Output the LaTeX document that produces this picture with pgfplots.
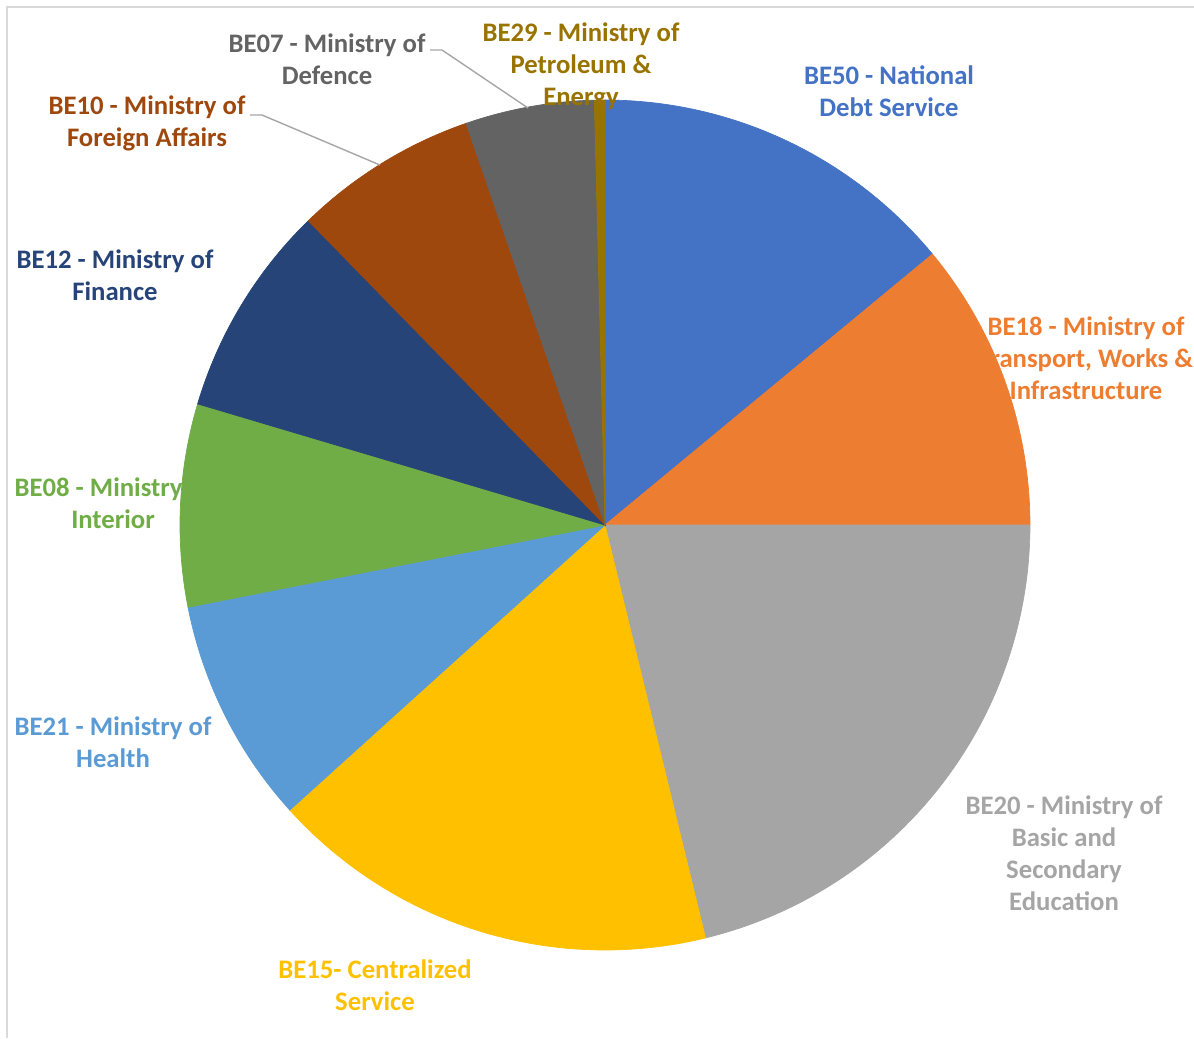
\documentclass[border=0pt]{standalone}
\usepackage{pgfplots}
\pgfplotsset{compat=1.18}
\usepackage{fontspec}
\setmainfont{Carlito}
\definecolor{cBEfifty}{HTML}{4472C4}
\definecolor{cBEeighteen}{HTML}{ED7D31}
\definecolor{cBEtwenty}{HTML}{A5A5A5}
\definecolor{cBEfifteen}{HTML}{FFC000}
\definecolor{cBEtwentyone}{HTML}{5B9BD5}
\definecolor{cBEeight}{HTML}{70AD47}
\definecolor{cBEtwelve}{HTML}{264478}
\definecolor{cBEten}{HTML}{9E480E}
\definecolor{cBEseven}{HTML}{636363}
\definecolor{cBEtwentynine}{HTML}{997300}
\definecolor{frame}{HTML}{D9D9D9}
\tikzset{lbl/.style={font=\fontsize{7.6}{9.1}\selectfont\bfseries, align=center, inner sep=0pt}}
% slice: {color}{start angle}{end angle} (degrees clockwise from 12 o'clock; share x 3.6)
\newcommand{\slice}[3]{%
  \addplot[fill=#1, draw=#1, line width=0.2pt, domain=#2:#3, samples=80]
    ({605+425*sin(x)},{525-425*cos(x)}) -- (axis cs:605,525) -- cycle;}
\begin{document}
\begin{tikzpicture}
\begin{axis}[
  at={(0,0)}, anchor=south west,
  scale only axis, width=11.94cm, height=10.38cm,
  xmin=0, xmax=1194, ymin=0, ymax=1038, y dir=reverse,
  hide axis, clip=false,
]
\addplot[draw=none] coordinates {(0,0) (1194,1038)};
\draw[frame, line width=0.6pt] (axis cs:7,1038) -- (axis cs:7,7) -- (axis cs:1194,7);
% labels behind the pie
\node[lbl, text=cBEeighteen] at (axis cs:1086,358) {BE18 - Ministry of\\Transport, Works \&\\Infrastructure};
\node[lbl, text=cBEeight] at (axis cs:113,503) {BE08 - Ministry of\\Interior};
% slices: values (%) 14.0, 11.0, 21.2, 17.1, 8.6, 7.7, 8.1, 7.0, 4.9, 0.4
\slice{cBEfifty}{0}{50.4}
\slice{cBEeighteen}{50.4}{90.0}
\slice{cBEtwenty}{90.0}{166.32}
\slice{cBEfifteen}{166.32}{227.88}
\slice{cBEtwentyone}{227.88}{258.84}
\slice{cBEeight}{258.84}{286.56}
\slice{cBEtwelve}{286.56}{315.72}
\slice{cBEten}{315.72}{340.92}
\slice{cBEseven}{340.92}{358.56}
\slice{cBEtwentynine}{358.56}{360}
% leader lines
\draw[gray!70, line width=0.4pt] (axis cs:430,50) -- (axis cs:442,50) -- (axis cs:528,108);
\draw[gray!70, line width=0.4pt] (axis cs:250,115) -- (axis cs:262,115) -- (axis cs:380,165);
% labels
\node[lbl, text=cBEfifty] at (axis cs:889,91) {BE50 - National\\Debt Service};
\node[lbl, text=cBEtwenty] at (axis cs:1064,853) {BE20 - Ministry of\\Basic and\\Secondary\\Education};
\node[lbl, text=cBEfifteen] at (axis cs:375,985) {BE15- Centralized\\Service};
\node[lbl, text=cBEtwentyone] at (axis cs:113,742) {BE21 - Ministry of\\Health};
\node[lbl, text=cBEtwelve] at (axis cs:115,275) {BE12 - Ministry of\\Finance};
\node[lbl, text=cBEten] at (axis cs:147,123) {BE10 - Ministry of\\Foreign Affairs};
\node[lbl, text=cBEseven] at (axis cs:327,59) {BE07 - Ministry of\\Defence};
\node[lbl, text=cBEtwentynine] at (axis cs:581,66) {BE29 - Ministry of\\Petroleum \&\\Energy};
\end{axis}
\pgfresetboundingbox
\path (0,0) rectangle (11.94cm,10.38cm);
\end{tikzpicture}
\end{document}
